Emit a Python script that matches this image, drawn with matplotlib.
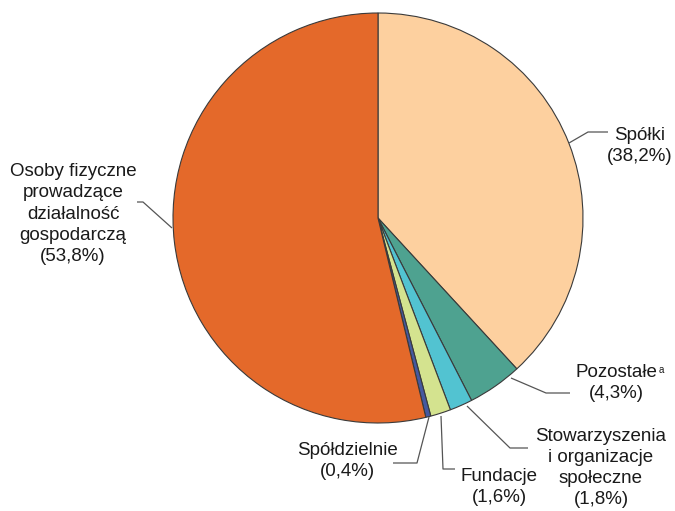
import matplotlib
matplotlib.use("Agg")
import matplotlib.pyplot as plt

categories = ["Spółki", "Pozostałe", "Stowarzyszenia\ni organizacje\nspołeczne",
              "Fundacje", "Spółdzielnie", "Osoby fizyczne\nprowadzące\ndziałalność\ngospodarczą"]
values = [38.2, 4.3, 1.8, 1.6, 0.4, 53.8]
value_labels = ["38,2%", "4,3%", "1,8%", "1,6%", "0,4%", "53,8%"]
colors = ["#FDD09F", "#4EA290", "#52C3D1", "#D4E38F", "#4459A0", "#E4692A"]

plt.rcParams["font.family"] = ["Liberation Sans", "DejaVu Sans"]

W, H = 675, 511
fig = plt.figure(figsize=(W / 100, H / 100), dpi=100)
ax = fig.add_axes([0, 0, 1, 1])

def Y(y):
    return H - y

cx, cy, R = 378, 218, 205
ax.pie(values, colors=colors, startangle=90, counterclock=False,
       center=(cx, Y(cy)), radius=R,
       wedgeprops=dict(edgecolor="#3a3a3a", linewidth=0.8))
ax.set_xlim(0, W)
ax.set_ylim(0, H)
ax.set_aspect("equal")
ax.axis("off")

fs = 13.5
lc = "#555555"

# leader lines (layout, pixel coords)
leaders = [
    [(569, 143), (588, 132), (608, 132)],
    [(511, 378), (546, 393), (570, 393)],
    [(467, 406), (510, 448), (528, 448)],
    [(441, 416), (443, 469), (455, 469)],
    [(429, 417), (417, 463), (393, 463)],
    [(172, 228), (143, 202), (137, 202)],
]
for pts in leaders:
    ax.plot([p[0] for p in pts], [Y(p[1]) for p in pts], color=lc, lw=0.9,
            solid_capstyle="butt")

label_pos = [(640, 146), (616, 383), (601, 468), (499, 487), (347, 461), (73, 214)]
texts = []
for i, (cat, vl) in enumerate(zip(categories, value_labels)):
    x, y = label_pos[i]
    t = ax.text(x, Y(y), f"{cat}\n({vl})", ha="center", va="center",
                fontsize=fs, linespacing=1.33, color="#1a1a1a")
    texts.append(t)

# superscript "a" after Pozostałe
ax.annotate("a", xy=(1, 1), xycoords=texts[1], xytext=(1.5, -1),
            textcoords="offset points", fontsize=7, ha="left", va="top",
            color="#1a1a1a")

fig.savefig("out.png", dpi=100)
